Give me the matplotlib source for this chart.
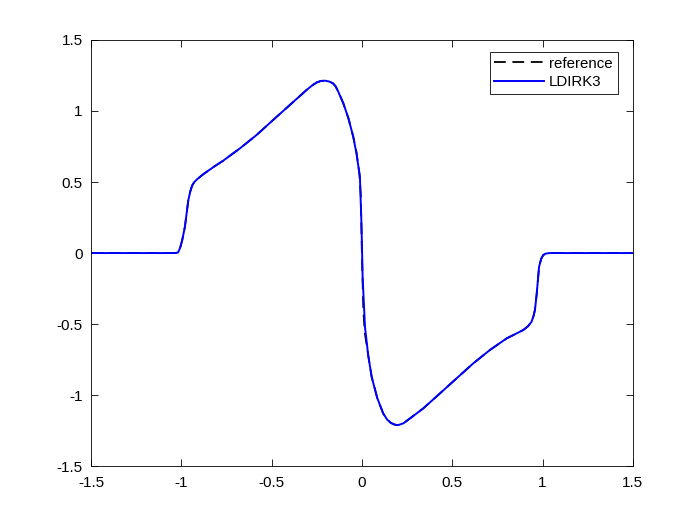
import matplotlib
matplotlib.use('Agg')
import matplotlib.pyplot as plt

plt.rcParams['font.family'] = ['Liberation Sans', 'DejaVu Sans']

# LDIRK3 solution
x_num = [-1.5, -1.2, -1.035, -1.018, -1.007, -0.995, -0.980, -0.961, -0.950, -0.940,
         -0.928, -0.910, -0.878, -0.820, -0.768, -0.675, -0.583, -0.491, -0.399, -0.306,
         -0.275, -0.251, -0.228, -0.205, -0.180, -0.159, -0.145, -0.131, -0.103, -0.075,
         -0.048, -0.030, -0.011, -0.002, 0.004, 0.017, 0.035, 0.054, 0.085, 0.118,
         0.140, 0.160, 0.180, 0.200, 0.230, 0.266, 0.339, 0.432, 0.524, 0.616,
         0.708, 0.801, 0.893, 0.920, 0.939, 0.950, 0.958, 0.967, 0.981, 0.993,
         1.004, 1.02, 1.04, 1.2, 1.5]
y_num = [0.0, 0.0, 0.0, 0.004, 0.035, 0.09, 0.185, 0.373, 0.435, 0.475,
         0.500, 0.522, 0.555, 0.607, 0.650, 0.737, 0.831, 0.937, 1.042, 1.148,
         1.180, 1.200, 1.211, 1.213, 1.207, 1.193, 1.172, 1.136, 1.054, 0.95,
         0.819, 0.70, 0.537, 0.185, -0.167, -0.519, -0.72, -0.871, -1.02, -1.129,
         -1.172, -1.195, -1.207, -1.211, -1.198, -1.164, -1.094, -0.988, -0.882, -0.777,
         -0.683, -0.601, -0.542, -0.515, -0.484, -0.445, -0.401, -0.300, -0.096, -0.04,
         -0.014, -0.003, 0.0, 0.0, 0.0]

# reference solution, a bit steeper at the centre
x_ref = [-1.5, -1.2, -1.035, -1.018, -1.007, -0.995, -0.980, -0.961, -0.950, -0.940,
         -0.928, -0.910, -0.878, -0.820, -0.768, -0.675, -0.583, -0.491, -0.399, -0.306,
         -0.275, -0.251, -0.228, -0.205, -0.180, -0.159, -0.145, -0.131, -0.103, -0.075,
         -0.048, -0.030, -0.014, -0.006, 0.0, 0.008, 0.016, 0.035, 0.054, 0.085, 0.118,
         0.140, 0.160, 0.180, 0.200, 0.230, 0.266, 0.339, 0.432, 0.524, 0.616,
         0.708, 0.801, 0.893, 0.920, 0.939, 0.950, 0.958, 0.967, 0.981, 0.993,
         1.004, 1.02, 1.04, 1.2, 1.5]
y_ref = [0.0, 0.0, 0.0, 0.004, 0.035, 0.09, 0.185, 0.373, 0.435, 0.475,
         0.500, 0.522, 0.555, 0.607, 0.650, 0.737, 0.831, 0.937, 1.042, 1.148,
         1.180, 1.200, 1.211, 1.213, 1.207, 1.193, 1.172, 1.136, 1.054, 0.95,
         0.819, 0.71, 0.56, 0.40, 0.0, -0.40, -0.56, -0.72, -0.871, -1.02, -1.129,
         -1.172, -1.195, -1.207, -1.211, -1.198, -1.164, -1.094, -0.988, -0.882, -0.777,
         -0.683, -0.601, -0.542, -0.515, -0.484, -0.445, -0.401, -0.300, -0.096, -0.04,
         -0.014, -0.003, 0.0, 0.0, 0.0]

x_ticks = [-1.5, -1, -0.5, 0, 0.5, 1, 1.5]
y_ticks = [-1.5, -1, -0.5, 0, 0.5, 1, 1.5]
tick_labels = ['-1.5', '-1', '-0.5', '0', '0.5', '1', '1.5']

fig = plt.figure(figsize=(7, 5.25), dpi=100)
ax = fig.add_axes([0.13, 0.112, 0.774, 0.812])

ax.plot(x_ref, y_ref, 'k--', lw=1.3, dashes=(6.5, 3.7), label='reference')
ax.plot(x_num, y_num, color='#0000ff', lw=1.4, label='LDIRK3')

ax.set_xlim(-1.5, 1.5)
ax.set_ylim(-1.5, 1.5)
ax.set_xticks(x_ticks)
ax.set_xticklabels(tick_labels)
ax.set_yticks(y_ticks)
ax.set_yticklabels(tick_labels)
ax.tick_params(direction='in', top=True, right=True, labelsize=11, length=5, width=0.6)
ax.tick_params(axis='x', pad=7)
ax.tick_params(axis='y', pad=6)
for s in ax.spines.values():
    s.set_linewidth(0.6)

# legend box placed where it sits in the picture
leg = ax.legend(loc='upper right', bbox_to_anchor=(0.972, 0.972), fancybox=False,
                framealpha=1, edgecolor='black', fontsize=10.8, borderaxespad=0,
                handlelength=3.3, handletextpad=0.35, labelspacing=0.3, borderpad=0.32)
leg.get_frame().set_linewidth(0.6)

fig.savefig('out.png', dpi=100)
